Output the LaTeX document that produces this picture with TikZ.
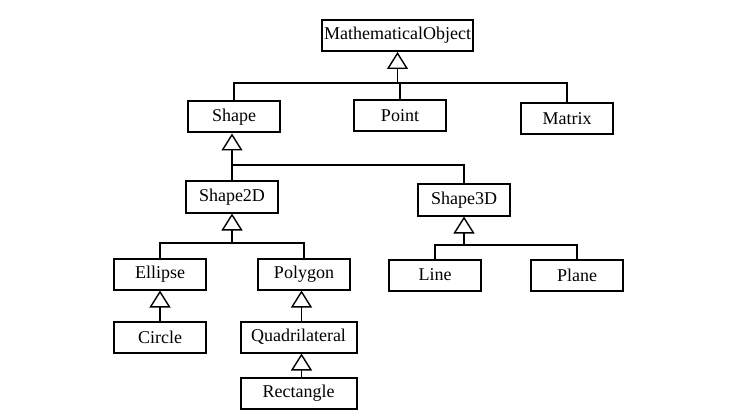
\documentclass[tikz,border=0pt]{standalone}
\usepackage{fontspec}
\setmainfont{Liberation Serif}
\usetikzlibrary{arrows.meta}

\begin{document}
\begin{tikzpicture}[x=0.5pt,y=-0.5pt,
  cls/.style={draw,line width=1pt,minimum width=46pt,minimum height=15.5pt,inner sep=1pt,font=\fontsize{9}{11}\selectfont},
  link/.style={line width=0.9pt},
  inh/.style={link,-{Triangle[open,length=8.5pt,width=10.5pt,line width=0.7pt]}}]
\useasboundingbox (0,0) rectangle (750,417);
% classes
\node[cls,minimum width=74pt] (MO) at (397.5,35.5) {MathematicalObject};
\node[cls] (Shape) at (234,117) {Shape};
\node[cls] (Point) at (400,116) {Point};
\node[cls] (Matrix) at (567,118.5) {Matrix};
\node[cls] (S2D) at (232,197) {Shape2D};
\node[cls] (S3D) at (464,200) {Shape3D};
\node[cls] (Ellipse) at (160,274) {Ellipse};
\node[cls] (Polygon) at (304,274) {Polygon};
\node[cls] (Line) at (435,275) {Line};
\node[cls] (Plane) at (577,275) {Plane};
\node[cls] (Circle) at (160,337) {Circle};
\node[cls,minimum width=58pt] (Quad) at (298.5,337) {Quadrilateral};
\node[cls,minimum width=58pt] (Rect) at (298.5,393) {Rectangle};
% junctions
\coordinate (jMO) at (397.5,83); \coordinate (jShape) at (232,165);
\coordinate (jS2D) at (232,243); \coordinate (jS3D) at (464,245);
% inheritance
\draw[inh] (jMO) -- (MO.south);
\draw[link] (Shape.north) |- (jMO) -| (Matrix.north);
\draw[link] (Point.north) -- (Point.north |- jMO);
\draw[inh] (jShape) -- (Shape.south -| jShape);
\draw[link] (S2D.north) -- (jShape) -| (S3D.north);
\draw[inh] (jS2D) -- (S2D.south);
\draw[link] (Ellipse.north) |- (jS2D) -| (Polygon.north);
\draw[inh] (jS3D) -- (S3D.south);
\draw[link] (Line.north) |- (jS3D) -| (Plane.north);
\draw[inh] (Circle.north) -- (Ellipse.south);
\draw[inh] ([xshift=1.5pt]Quad.north) -- ([xshift=1.5pt]Quad.north |- Polygon.south);
\draw[inh] ([xshift=1.5pt]Rect.north) -- ([xshift=1.5pt]Quad.south);
\end{tikzpicture}
\end{document}
